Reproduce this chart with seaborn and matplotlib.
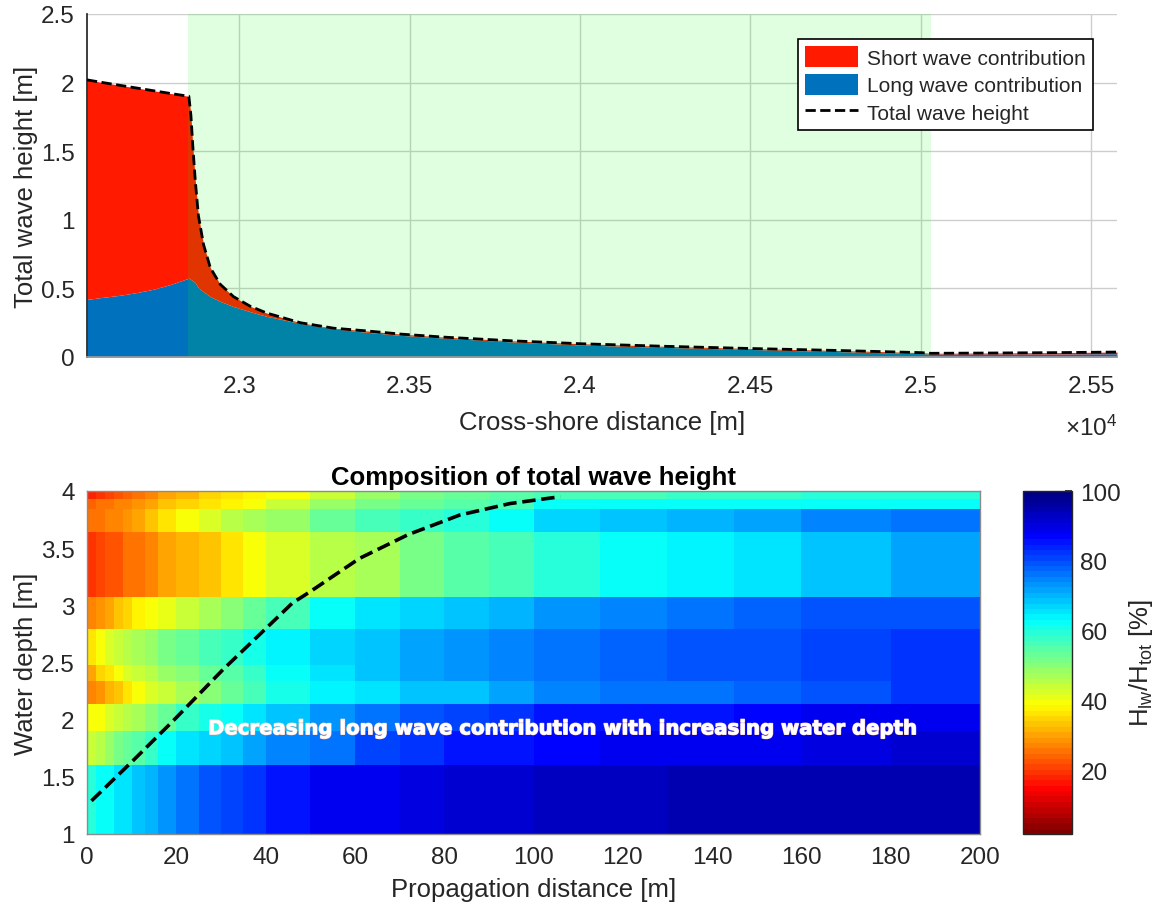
import numpy as np
import matplotlib
matplotlib.use("Agg")
import matplotlib.pyplot as plt
import matplotlib.patheffects as pe
from matplotlib.colors import LinearSegmentedColormap
from matplotlib.ticker import FuncFormatter
from matplotlib.patches import Patch
from matplotlib.lines import Line2D
import seaborn as sns

# ---------------- data: top panel ----------------
cross_x = [22553, 22600, 22650, 22700, 22750, 22800, 22852, 22858, 22864, 22871,
           22880, 22895, 22915, 22944, 22983, 23032, 23081, 23179, 23277, 23375,
           23474, 23600, 23800, 24000, 24250, 24500, 24750, 25000, 25030, 25200,
           25400, 25576]
total_h = [2.02, 2.00, 1.98, 1.96, 1.94, 1.92, 1.90, 1.76, 1.52, 1.28,
           1.03, 0.82, 0.65, 0.53, 0.44, 0.37, 0.32, 0.25, 0.21, 0.19,
           0.167, 0.145, 0.118, 0.097, 0.078, 0.062, 0.048, 0.032, 0.027, 0.029,
           0.032, 0.036]
long_h = [0.42, 0.435, 0.45, 0.47, 0.495, 0.53, 0.575, 0.565, 0.555, 0.54,
          0.505, 0.475, 0.44, 0.405, 0.368, 0.33, 0.296, 0.245, 0.205, 0.18,
          0.158, 0.138, 0.11, 0.088, 0.07, 0.055, 0.04, 0.025, 0.022, 0.022,
          0.022, 0.024]
surf_zone = [22850, 25030]

# ---------------- data: bottom panel ----------------
prop_edges = [0, 2, 4, 6, 8, 10, 13, 16, 20, 25, 30, 35, 40, 50, 60, 70, 80, 90,
              100, 115, 130, 145, 160, 180, 200]
depth_edges = [1.0, 1.6, 1.9, 2.14, 2.34, 2.48, 2.79, 3.07, 3.64, 3.84, 3.93, 4.0]

ratio_d100 = [60, 62, 63, 65, 66, 68, 70, 73, 76, 79, 81, 83, 86, 88, 89, 90, 91, 92, 93, 93, 94, 94, 94, 95]
ratio_d160 = [44, 46, 49, 51, 53, 55, 58, 62, 65, 67, 69, 71, 74, 77, 81, 83, 85, 86, 87, 88, 88, 89, 90, 91]
ratio_d190 = [39, 40, 42, 44, 45, 47, 50, 54, 58, 61, 63, 65, 69, 73, 77, 79, 81, 82, 85, 86, 86, 87, 88, 89]
ratio_d214 = [28, 29, 32, 34, 37, 39, 42, 44, 47, 50, 53, 56, 61, 64, 66, 68, 69, 71, 74, 76, 77, 78, 80, 82]
ratio_d234 = [31, 35, 37, 40, 42, 44, 46, 48, 50, 53, 55, 58, 62, 66, 68, 71, 73, 75, 77, 78, 79, 80, 81, 83]
ratio_d248 = [37, 40, 42, 44, 45, 47, 49, 51, 53, 56, 58, 61, 64, 67, 69, 71, 73, 74, 77, 78, 79, 80, 81, 82]
ratio_d279 = [27, 29, 31, 33, 35, 38, 39, 41, 44, 47, 50, 53, 57, 62, 65, 67, 69, 70, 73, 75, 77, 78, 79, 80]
ratio_d307 = [20, 21, 22, 23, 25, 26, 28, 30, 32, 34, 37, 39, 42, 45, 47, 51, 55, 57, 59, 63, 64, 66, 69, 71]
ratio_d364 = [25, 26, 27, 28, 29, 31, 33, 37, 40, 43, 45, 47, 49, 53, 56, 58, 60, 63, 67, 69, 70, 72, 74, 76]
ratio_d384 = [24, 25, 26, 27, 28, 29, 31, 33, 35, 37, 38, 40, 44, 48, 51, 53, 55, 57, 62, 63, 63, 63, 62, 63]
ratio_d393 = [18, 19, 21, 22, 24, 26, 28, 30, 32, 35, 37, 38, 40, 44, 48, 51, 53, 55, 56, 57, 58, 58, 59, 60]

curve_x = [1, 10, 19.3, 30.5, 38, 46, 50, 61, 72, 83.5, 94.7, 106]
curve_depth = [1.29, 1.63, 1.99, 2.44, 2.72, 3.02, 3.12, 3.41, 3.62, 3.79, 3.89, 3.95]

cbar_ticks = [20, 40, 60, 80, 100]

# ---------------- style ----------------
sns.set_theme(style="white")
plt.rcParams["font.family"] = ["Liberation Sans", "DejaVu Sans"]
plt.rcParams["mathtext.fontset"] = "custom"
plt.rcParams["mathtext.rm"] = "Liberation Sans"
plt.rcParams["mathtext.it"] = "Liberation Sans:italic"
dark = "#262626"
for k in ["text.color", "axes.labelcolor", "xtick.color", "ytick.color"]:
    plt.rcParams[k] = dark

TICK_FS = 17.5
LABEL_FS = 18.5

W, H = 1157, 912
fig = plt.figure(figsize=(W / 100, H / 100), dpi=100)


def frac(l, t, r, b):
    return [l / W, 1 - b / H, (r - l) / W, (b - t) / H]


# ---------------- top panel ----------------
ax1 = fig.add_axes(frac(87, 15, 1117, 358))
ax1.set_axisbelow(True)
ax1.grid(True, color="#cdcdcd", lw=1)
ax1.fill_between(cross_x, 0, long_h, color="#0072BD", lw=0, zorder=1)
ax1.fill_between(cross_x, long_h, total_h, color="#FF1A00", lw=0, zorder=1)
ax1.axvspan(surf_zone[0], surf_zone[1], color=(0.0, 1.0, 0.0), alpha=0.12, lw=0, zorder=2)
sns.lineplot(x=cross_x, y=total_h, ax=ax1, color="black", lw=2, sort=False,
             linestyle="--", zorder=4, legend=False)
ax1.set_xlim(22553, 25576)
ax1.set_ylim(0, 2.5)
ax1.set_xticks(np.arange(23000, 25501, 500))
ax1.set_yticks(np.arange(0, 2.51, 0.5))
ax1.xaxis.set_major_formatter(FuncFormatter(lambda v, p: f"{v / 1e4:g}"))
ax1.yaxis.set_major_formatter(FuncFormatter(lambda v, p: f"{v:g}"))
ax1.tick_params(direction="in", length=5, labelsize=TICK_FS, color=dark)
ax1.tick_params(axis="x", pad=13)
ax1.tick_params(axis="y", pad=9)
for s in ["top", "right"]:
    ax1.spines[s].set_visible(False)
ax1.spines["left"].set_color(dark)
ax1.spines["bottom"].set_color("#9a9a9a")
ax1.set_xlabel("Cross-shore distance [m]", fontsize=LABEL_FS, labelpad=9)
ax1.set_ylabel("Total wave height [m]", fontsize=LABEL_FS, labelpad=2)
fig.text(1117 / W, 1 - 428 / H, r"$\times$10$^{4}$", fontsize=TICK_FS, ha="right",
         va="center", color=dark)

handles = [Patch(facecolor="#FF1A00", edgecolor="none", label="Short wave contribution"),
           Patch(facecolor="#0072BD", edgecolor="none", label="Long wave contribution"),
           Line2D([0], [0], color="black", lw=2, ls="--", label="Total wave height")]
leg = ax1.legend(handles=handles, loc="upper right",
                 bbox_to_anchor=(1 - 24 / 1030, 1 - 25 / 343), fontsize=15,
                 frameon=True, fancybox=False, framealpha=1, edgecolor="black",
                 handlelength=2.5, handleheight=1.15, borderpad=0.35,
                 labelspacing=0.3, handletextpad=0.45, borderaxespad=0)
leg.get_frame().set_linewidth(1.2)

# ---------------- bottom panel ----------------
ax2 = fig.add_axes(frac(87, 492, 980, 835))
grid_vals = np.array([ratio_d100, ratio_d160, ratio_d190, ratio_d214, ratio_d234,
                      ratio_d248, ratio_d279, ratio_d307, ratio_d364, ratio_d384,
                      ratio_d393], dtype=float)
jet_pos = [0, 1 / 8, 3 / 8, 5 / 8, 7 / 8, 1]
jet_col = [(0, 0, 0.5), (0, 0, 1), (0, 1, 1), (1, 1, 0), (1, 0, 0), (0.5, 0, 0)]
cmap = LinearSegmentedColormap.from_list("mjet", list(zip(jet_pos, jet_col)), N=64).reversed()
mesh = ax2.pcolormesh(prop_edges, depth_edges, grid_vals, cmap=cmap, vmin=2, vmax=100,
                      shading="flat")
sns.lineplot(x=curve_x, y=curve_depth, ax=ax2, color="black", lw=2.6, sort=False,
             linestyle="--", legend=False)
ax2.set_xlim(0, 200)
ax2.set_ylim(1, 4)
ax2.set_xticks(np.arange(0, 201, 20))
ax2.set_yticks(np.arange(1, 4.01, 0.5))
ax2.yaxis.set_major_formatter(FuncFormatter(lambda v, p: f"{v:g}"))
ax2.tick_params(length=0, labelsize=TICK_FS)
ax2.tick_params(axis="x", pad=9)
ax2.tick_params(axis="y", pad=9)
for s in ax2.spines.values():
    s.set_color("#8c8c8c")
    s.set_linewidth(1)
ax2.set_xlabel("Propagation distance [m]", fontsize=LABEL_FS, labelpad=6)
ax2.set_ylabel("Water depth [m]", fontsize=LABEL_FS, labelpad=2)
ax2.set_title("Composition of total wave height", fontsize=18.5, fontweight="bold",
              color="black", pad=5)
txt = ax2.text(106.6, 1.92, "Decreasing long wave contribution with increasing water depth",
               family=["DejaVu Sans"], fontsize=14.2, fontweight="bold", color="white",
               ha="center", va="center")
txt.set_path_effects([pe.withStroke(linewidth=1.0, foreground="#f4cfc4"), pe.Normal()])

# ---------------- colorbar ----------------
cax = fig.add_axes(frac(1023, 492, 1072, 835))
cb = fig.colorbar(mesh, cax=cax, ticks=cbar_ticks)
cb.outline.set_edgecolor(dark)
cb.outline.set_linewidth(1)
cax.tick_params(direction="in", length=5, labelsize=TICK_FS, color=dark, pad=6)
cb.set_label(r"H$_{\mathregular{lw}}$/H$_{\mathregular{tot}}$ [%]", fontsize=LABEL_FS,
             labelpad=4)

fig.savefig("out.png", dpi=100)
